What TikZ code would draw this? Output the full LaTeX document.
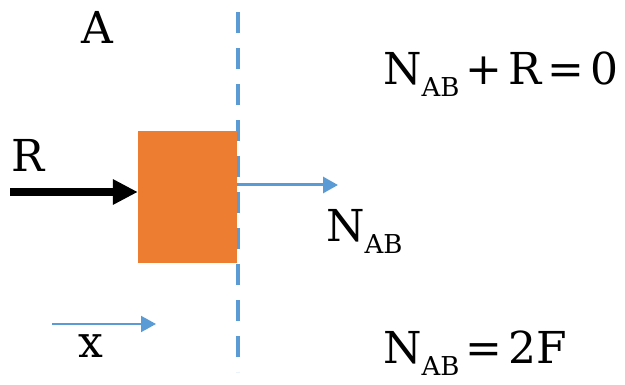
\documentclass[tikz,border=0pt]{standalone}
\usepackage{fontspec}
\setmainfont{DejaVu Serif}
\usepackage{tikz}
\usetikzlibrary{arrows.meta, positioning}

\definecolor{blockorange}{HTML}{ED7D31}
\definecolor{cutblue}{HTML}{5B9BD5}

\newcommand{\nab}{N\raisebox{-12pt}{\fontsize{26}{26}\selectfont AB}}
\newcommand{\gap}{\hspace{6pt}}

\begin{document}
\begin{tikzpicture}[
  x=1pt, y=-1pt,
  label/.style={font=\fontsize{44}{44}\selectfont, inner sep=0pt},
  block/.style={rectangle, fill=blockorange, minimum width=99pt,
                minimum height=132pt, inner sep=0pt},
  force/.style={-{Triangle[length=25pt, width=24pt]}, line width=8pt},
  bluearr/.style={-{Triangle[length=15pt, width=16pt]}, draw=cutblue},
  cut/.style={draw=cutblue, line width=4pt, dash pattern=on 21pt off 15pt}
]
  \useasboundingbox (0,0) rectangle (625,385);

  % cut line, then the block over it
  \coordinate (cuttop) at (238,12);
  \coordinate (cutbot) at (238,372);
  \draw[cut] (cuttop) -- (cutbot);
  \node[block] (blk) at (187.5,197) {};

  % forces
  \coordinate (rstart) at (10,192);
  \draw[force] (rstart) -- (rstart -| blk.west);
  \coordinate (nend) at (338,185);
  \draw[bluearr, line width=3pt] (nend -| blk.east) -- (nend);

  % axis
  \coordinate (xa) at (52,324);
  \coordinate (xb) at (156,324);
  \draw[bluearr, line width=2pt] (xa) -- (xb);

  % labels
  \node[label, anchor=base] (lblA) at (97,44) {A};
  \node[label, anchor=base] (lblR) at (28,172) {R};
  \node[label, anchor=base] (lblx) at (91,358) {x};
  \node[label, anchor=base west] (lblN) at (326,242) {\nab};
  \node[label, anchor=base west] (eqone) at (383,85)
    {\nab\gap+\gap R\gap=\gap 0};
  \node[label, anchor=base west] (eqtwo) at (383,363)
    {\nab\gap=\gap 2F};
\end{tikzpicture}
\end{document}
